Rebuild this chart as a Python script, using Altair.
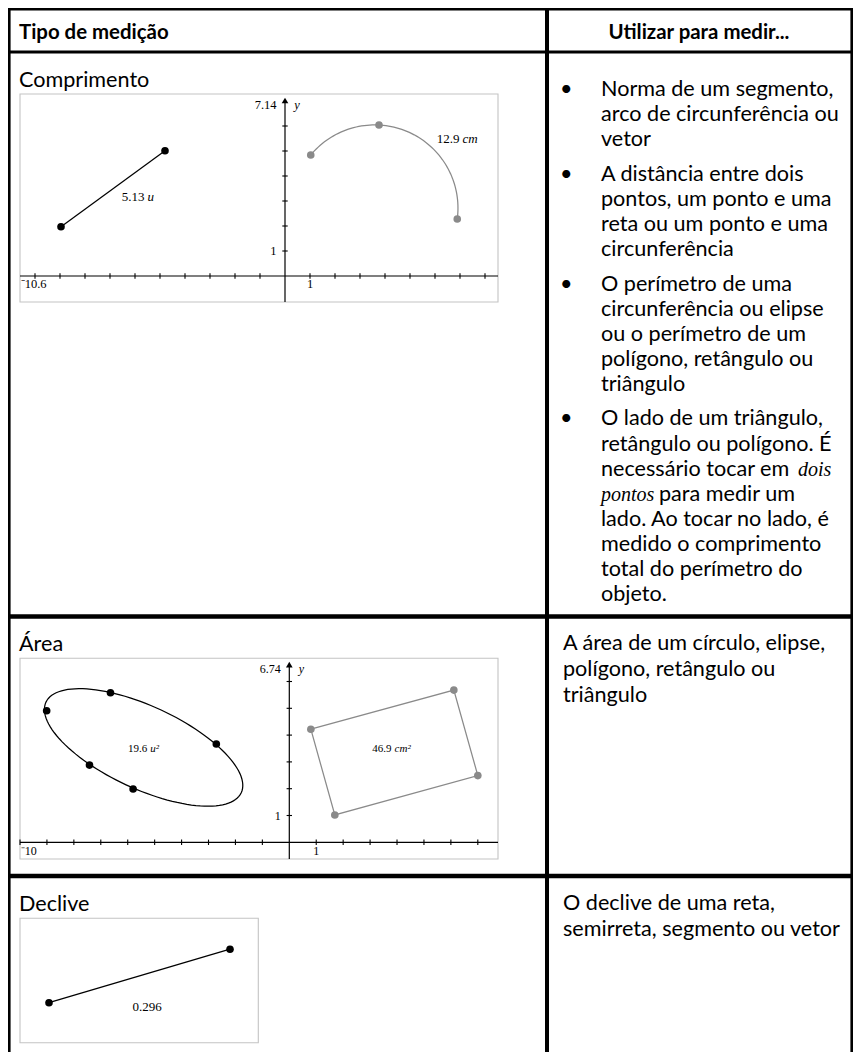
import math
import numpy as np
import pandas as pd
import altair as alt

# ============================================================ DATA
HEADER_LEFT = "Tipo de medição"
HEADER_RIGHT = "Utilizar para medir..."
ROW_TITLES = ["Comprimento", "Área", "Declive"]

# right column, one list per bullet, lines as wrapped in the source; *...* = italic
LENGTH_USES = [
    ["Norma de um segmento,", "arco de circunferência ou", "vetor"],
    ["A distância entre dois", "pontos, um ponto e uma", "reta ou um ponto e uma",
     "circunferência"],
    ["O perímetro de uma", "circunferência ou elipse", "ou o perímetro de um",
     "polígono, retângulo ou", "triângulo"],
    ["O lado de um triângulo,", "retângulo ou polígono. É", "necessário tocar em *dois*",
     "*pontos* para medir um", "lado. Ao tocar no lado, é", "medido o comprimento",
     "total do perímetro do", "objeto."],
]
AREA_USES = ["A área de um círculo, elipse,", "polígono, retângulo ou", "triângulo"]
SLOPE_USES = ["O declive de uma reta,", "semirreta, segmento ou vetor"]

# graph 1 - Comprimento
G1_X_MIN_LABEL, G1_Y_MAX_LABEL = "\u207b10.6", "7.14"
G1_Y_MAX = 7.14
G1_X_TICKS = [-10, -9, -8, -7, -6, -5, -4, -3, -2, -1, 1, 2, 3, 4, 5, 6, 7, 8]
G1_Y_TICKS = [1, 2, 3, 4, 5, 6]
G1_SEGMENT_X = [-8.96, -4.80]
G1_SEGMENT_Y = [1.97, 5.01]
G1_SEGMENT_LENGTH = ["5.13", "u"]
G1_SEGMENT_LABEL_AT = [-5.56, 3.16]
G1_ARC_X = [1.03, 3.76, 6.89]
G1_ARC_Y = [4.84, 6.04, 2.28]
G1_ARC_LENGTH = ["12.9", "cm"]
G1_ARC_LABEL_AT = [7.04, 5.48]

# graph 2 - Área
G2_X_MIN_LABEL, G2_Y_MAX_LABEL = "\u207b10", "6.74"
G2_Y_MAX = 6.74
G2_X_TICKS = [-10, -9, -8, -7, -6, -5, -4, -3, -2, -1, 1, 2, 3, 4, 5, 6, 7]
G2_Y_TICKS = [1, 2, 3, 4, 5, 6]
G2_ELLIPSE_CENTER = [-5.41, 3.54]
G2_ELLIPSE_SEMI_AXES = [4.0, 1.54]
G2_ELLIPSE_TILT_DEG = -25
G2_ELLIPSE_POINTS_X = [-9.01, -6.64, -2.71, -7.42, -5.80]
G2_ELLIPSE_POINTS_Y = [4.91, 5.58, 3.67, 2.88, 1.99]
G2_ELLIPSE_AREA = ["19.6", "u\u00b2"]
G2_ELLIPSE_LABEL_AT = [-5.22, 3.47]
G2_RECT_X = [0.80, 6.11, 7.00, 1.69]
G2_RECT_Y = [4.22, 5.68, 2.49, 1.02]
G2_RECT_AREA = ["46.9", "cm\u00b2"]
G2_RECT_LABEL_AT = [3.85, 3.47]

# graph 3 - Declive
G3_SEGMENT_X = [1.16, 8.40]
G3_SEGMENT_Y = [1.60, 3.74]
G3_SLOPE = "0.296"
G3_SLOPE_LABEL_AT = [5.08, 1.42]

# ============================================================ LAYOUT (page pixels)
OX, OY = 8, 8            # page margin
W, H = 845, 1044         # drawing size (page fits the window exactly)
RIGHT, BOTTOM = OX + W, OY + H
SANS = "Lato"
SERIF = "Liberation Serif"
BODY_SIZE = 21.6
HEAD_SIZE = 20.4

TABLE_BARS = [           # x0, y0, x1, y1
    (8, 8, RIGHT, 10.6),            # top border
    (8, 8, 10.6, BOTTOM),           # left border
    (RIGHT - 2.6, 8, RIGHT, BOTTOM),  # right border
    (8, 50.6, RIGHT, 53.6),         # header rule
    (545, 8, 549, BOTTOM),          # column rule
    (8, 614.3, RIGHT, 618.7),       # row rule 1
    (8, 873.8, RIGHT, 878.2),       # row rule 2
]
G1_BOX, G1_ORIGIN, G1_UNIT = (20, 94, 498, 302), (285, 276), (25, 25)
G2_BOX, G2_ORIGIN, G2_UNIT = (20, 658.3, 498, 859), (289.3, 842.3), (26.93, 26.8)
G3_BOX, G3_ORIGIN, G3_UNIT = (20, 918.3, 258.3, 1042.7), (20, 1042.7), (25, 25)

LEFT_X = 19
HEADER_BASE = 38.8
HEADER_RIGHT_CX = 699
TITLE_BASES = [87.3, 650.7, 910.7]
BULLET_X, BULLET_TEXT_X, PLAIN_TEXT_X = 560, 601, 563
BULLET_FIRST_BASE, BULLET_STEP, BULLET_GAP = 96.0, 25.1, 9.4
PLAIN_STEP = 26.0
AREA_FIRST_BASE, SLOPE_FIRST_BASE = 650.3, 910.3
SEGMENT_X = {"dois": 798, "para medir um": 659, "pontos": 601}

GRAY = "#8a8a8a"
BOX_GRAY = "#c4c4c4"


# ============================================================ CANVAS (table)
def cxe(f):
    return alt.X(f"{f}:Q", axis=None,
                 scale=alt.Scale(domain=[OX, RIGHT], range=[0, W], nice=False, zero=False))


def cye(f):
    return alt.Y(f"{f}:Q", axis=None,
                 scale=alt.Scale(domain=[OY, BOTTOM], range=[0, H], nice=False, zero=False))


bars_df = pd.DataFrame(TABLE_BARS, columns=["x0", "y0", "x1", "y1"])
bars = alt.Chart(bars_df).mark_rect(color="black").encode(
    x=cxe("x0"), x2="x1", y=cye("y0"), y2="y1")

boxes_df = pd.DataFrame([G1_BOX, G2_BOX, G3_BOX], columns=["x0", "y0", "x1", "y1"])
boxes = alt.Chart(boxes_df).mark_rect(filled=False, color=BOX_GRAY, strokeWidth=1.1).encode(
    x=cxe("x0"), x2="x1", y=cye("y0"), y2="y1")

# table text
roman, italic = [], []


def add_line(line, x, y):
    parts = line.split("*")
    first = True
    for k, part in enumerate(parts):
        if not part.strip():
            continue
        px = x if first else SEGMENT_X[part.strip()]
        first = False
        (italic if k % 2 else roman).append({"x": px, "y": y, "t": part.strip()})


for title, base in zip(ROW_TITLES, TITLE_BASES):
    add_line(title, LEFT_X, base)

bullets = []
idx = 0
for p, para in enumerate(LENGTH_USES):
    for i, line in enumerate(para):
        y = BULLET_FIRST_BASE + idx * BULLET_STEP + p * BULLET_GAP
        if i == 0:
            bullets.append({"x": BULLET_X, "y": y, "t": "\u2022"})
        add_line(line, BULLET_TEXT_X, y)
        idx += 1
for i, line in enumerate(AREA_USES):
    add_line(line, PLAIN_TEXT_X, AREA_FIRST_BASE + i * PLAIN_STEP)
for i, line in enumerate(SLOPE_USES):
    add_line(line, PLAIN_TEXT_X, SLOPE_FIRST_BASE + i * PLAIN_STEP)


def text_layer(rows, **kw):
    return alt.Chart(pd.DataFrame(rows)).mark_text(baseline="alphabetic", fill="black",
                                                   **kw).encode(
        x=cxe("x"), y=cye("y"), text="t:N")


t_roman = text_layer(roman, font=SANS, fontSize=BODY_SIZE, align="left")
t_bullet = text_layer(bullets, font=SANS, fontSize=BODY_SIZE, align="left")
t_italic = text_layer(italic, font=SERIF, fontSize=20, fontStyle="italic", align="left")
t_head_l = text_layer([{"x": LEFT_X, "y": HEADER_BASE, "t": HEADER_LEFT}], font=SANS,
                      fontSize=HEAD_SIZE, fontWeight="bold", align="left")
t_head_r = text_layer([{"x": HEADER_RIGHT_CX, "y": HEADER_BASE, "t": HEADER_RIGHT}], font=SANS,
                      fontSize=HEAD_SIZE, fontWeight="bold", align="center")

canvas = alt.layer(bars, boxes, t_roman, t_bullet, t_italic, t_head_l, t_head_r)


# ============================================================ GRAPHS
def scales(box, origin, unit):
    left, top, right, bottom = box
    ox, oy = origin
    ux, uy = unit
    sx = alt.Scale(domain=[(left - ox) / ux, (right - ox) / ux], range=[left - OX, right - OX],
                   nice=False, zero=False)
    sy = alt.Scale(domain=[(oy - bottom) / uy, (oy - top) / uy], range=[bottom - OY, top - OY],
                   nice=False, zero=False)
    X = lambda f: alt.X(f"{f}:Q", scale=sx, axis=None)
    Y = lambda f: alt.Y(f"{f}:Q", scale=sy, axis=None)
    return X, Y, sx.domain, sy.domain


def label(X, Y, xs, ys, ts, **kw):
    return (alt.Chart(pd.DataFrame({"x": xs, "y": ys, "t": ts}))
            .mark_text(font=SERIF, fill="black", **kw)
            .encode(x=X("x"), y=Y("y"), text="t:N"))


def axes_layers(X, Y, xdom, ydom, unit, xticks, yticks, ymax, xmin_label, ymax_label,
                lab_size):
    ux, uy = unit
    tx, ty = 2.7 / ux, 2.7 / uy
    lay = [
        alt.Chart(pd.DataFrame({"x": [xdom[0]], "x2": [xdom[1]], "y": [0]}))
        .mark_rule(color="black", strokeWidth=1.2)
        .encode(x=X("x"), x2="x2", y=Y("y")),
        alt.Chart(pd.DataFrame({"x": [0], "y": [ydom[0]], "y2": [ymax - 3 / uy]}))
        .mark_rule(color="black", strokeWidth=1.2)
        .encode(x=X("x"), y=Y("y"), y2="y2"),
        alt.Chart(pd.DataFrame({"x": xticks, "y": -ty, "y2": ty}))
        .mark_rule(color="black", strokeWidth=1.1)
        .encode(x=X("x"), y=Y("y"), y2="y2"),
        alt.Chart(pd.DataFrame({"y": yticks, "x": -tx, "x2": tx}))
        .mark_rule(color="black", strokeWidth=1.1)
        .encode(y=Y("y"), x=X("x"), x2="x2"),
        alt.Chart(pd.DataFrame({"x": [0], "y": [ymax - 3.0 / uy]}))
        .mark_point(shape="triangle-up", filled=True, size=44, color="black", opacity=1)
        .encode(x=X("x"), y=Y("y")),
    ]
    base = -12.3 / uy
    lay.append(label(X, Y, [xdom[0] + 0.7 / ux], [base], [xmin_label], fontSize=lab_size,
                     align="left", baseline="alphabetic"))
    lay.append(label(X, Y, [1], [base], ["1"], fontSize=lab_size, align="center",
                     baseline="alphabetic"))
    lay.append(label(X, Y, [-8.5 / ux, -8.5 / ux], [1, ymax - 7.5 / uy], ["1", ymax_label],
                     fontSize=lab_size, align="right", baseline="middle"))
    lay.append(label(X, Y, [12 / ux], [ymax - 7.5 / uy], ["y"], fontSize=lab_size,
                     fontStyle="italic", align="center", baseline="middle"))
    return lay


def value_label(X, Y, at, value, unit_txt, size):
    return [
        label(X, Y, [at[0]], [at[1]], [value], fontSize=size, align="right",
              baseline="middle", dx=-1.6),
        label(X, Y, [at[0]], [at[1]], [unit_txt], fontSize=size, fontStyle="italic",
              align="left", baseline="middle", dx=1.6),
    ]


def dots(X, Y, xs, ys, color):
    return (alt.Chart(pd.DataFrame({"x": xs, "y": ys}))
            .mark_point(shape="circle", filled=True, size=58, color=color, opacity=1)
            .encode(x=X("x"), y=Y("y")))


def path(X, Y, xs, ys, color, width=1.25):
    return (alt.Chart(pd.DataFrame({"x": xs, "y": ys, "i": range(len(xs))}))
            .mark_line(color=color, strokeWidth=width)
            .encode(x=X("x"), y=Y("y"), order="i:Q"))


# ---- graph 1
X1, Y1, xd1, yd1 = scales(G1_BOX, G1_ORIGIN, G1_UNIT)
# circle through the three arc points
(ax, bx, cx_), (ay, by, cy_) = G1_ARC_X, G1_ARC_Y
d = 2 * (ax * (by - cy_) + bx * (cy_ - ay) + cx_ * (ay - by))
ux_c = ((ax**2 + ay**2) * (by - cy_) + (bx**2 + by**2) * (cy_ - ay) + (cx_**2 + cy_**2) * (ay - by)) / d
uy_c = ((ax**2 + ay**2) * (cx_ - bx) + (bx**2 + by**2) * (ax - cx_) + (cx_**2 + cy_**2) * (bx - ax)) / d
r = math.hypot(ax - ux_c, ay - uy_c)
tA = math.atan2(ay - uy_c, ax - ux_c)
tC = math.atan2(cy_ - uy_c, cx_ - ux_c)
if tC > tA:
    tC -= 2 * math.pi
tt = np.linspace(tA, tC, 80)
arc_x = list(ux_c + r * np.cos(tt))
arc_y = list(uy_c + r * np.sin(tt))

g1_layers = axes_layers(X1, Y1, xd1, yd1, G1_UNIT, G1_X_TICKS, G1_Y_TICKS, G1_Y_MAX,
                        G1_X_MIN_LABEL, G1_Y_MAX_LABEL, 12.5)
g1_layers += [
    path(X1, Y1, G1_SEGMENT_X, G1_SEGMENT_Y, "black"),
    dots(X1, Y1, G1_SEGMENT_X, G1_SEGMENT_Y, "black"),
    path(X1, Y1, arc_x, arc_y, GRAY),
    dots(X1, Y1, G1_ARC_X, G1_ARC_Y, GRAY),
]
g1_layers += value_label(X1, Y1, G1_SEGMENT_LABEL_AT, *G1_SEGMENT_LENGTH, 13)
g1_layers += value_label(X1, Y1, G1_ARC_LABEL_AT, *G1_ARC_LENGTH, 13)
g1 = alt.layer(*g1_layers)

# ---- graph 2
X2, Y2, xd2, yd2 = scales(G2_BOX, G2_ORIGIN, G2_UNIT)
phi = math.radians(G2_ELLIPSE_TILT_DEG)
ea, eb = G2_ELLIPSE_SEMI_AXES
te = np.linspace(0, 2 * math.pi, 121)
ell_x = list(G2_ELLIPSE_CENTER[0] + ea * np.cos(te) * math.cos(phi) - eb * np.sin(te) * math.sin(phi))
ell_y = list(G2_ELLIPSE_CENTER[1] + ea * np.cos(te) * math.sin(phi) + eb * np.sin(te) * math.cos(phi))

g2_layers = axes_layers(X2, Y2, xd2, yd2, G2_UNIT, G2_X_TICKS, G2_Y_TICKS, G2_Y_MAX,
                        G2_X_MIN_LABEL, G2_Y_MAX_LABEL, 12)
g2_layers += [
    path(X2, Y2, ell_x, ell_y, "black"),
    dots(X2, Y2, G2_ELLIPSE_POINTS_X, G2_ELLIPSE_POINTS_Y, "black"),
    path(X2, Y2, G2_RECT_X + G2_RECT_X[:1], G2_RECT_Y + G2_RECT_Y[:1], GRAY),
    dots(X2, Y2, G2_RECT_X, G2_RECT_Y, GRAY),
]
g2_layers += value_label(X2, Y2, G2_ELLIPSE_LABEL_AT, *G2_ELLIPSE_AREA, 11)
g2_layers += value_label(X2, Y2, G2_RECT_LABEL_AT, *G2_RECT_AREA, 11)
g2 = alt.layer(*g2_layers)

# ---- graph 3
X3, Y3, xd3, yd3 = scales(G3_BOX, G3_ORIGIN, G3_UNIT)
g3 = alt.layer(
    path(X3, Y3, G3_SEGMENT_X, G3_SEGMENT_Y, "black"),
    dots(X3, Y3, G3_SEGMENT_X, G3_SEGMENT_Y, "black"),
    label(X3, Y3, [G3_SLOPE_LABEL_AT[0]], [G3_SLOPE_LABEL_AT[1]], [G3_SLOPE], fontSize=13,
          align="center", baseline="middle"),
)

chart = (
    alt.layer(canvas, g1, g2, g3)
    .resolve_scale(x="independent", y="independent")
    .properties(width=W, height=H, padding=0, autosize=alt.AutoSizeParams(type="none"),
                background="white")
    .configure_view(stroke=None)
)

chart.save("out.html", embed_options={"renderer": "svg", "actions": False})
